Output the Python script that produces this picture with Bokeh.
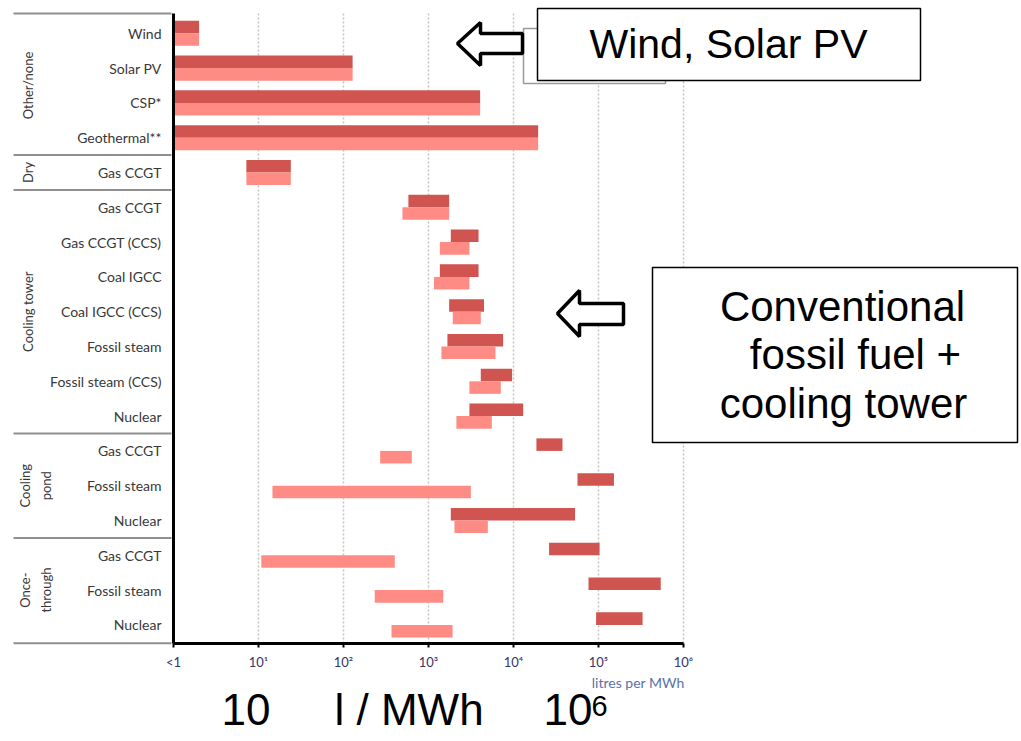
import math
from bokeh.plotting import figure
from bokeh.models import (Range1d, FixedTicker, Label, BoxAnnotation, PolyAnnotation,
                          ColumnDataSource)
from bokeh.embed import file_html
from bokeh.resources import INLINE

# ---------------- data ----------------
technologies = ["Wind", "Solar PV", "CSP*", "Geothermal**",
                "Gas CCGT",
                "Gas CCGT", "Gas CCGT (CCS)", "Coal IGCC", "Coal IGCC (CCS)",
                "Fossil steam", "Fossil steam (CCS)", "Nuclear",
                "Gas CCGT", "Fossil steam", "Nuclear",
                "Gas CCGT", "Fossil steam", "Nuclear"]
groups = ["Other/none"] * 4 + ["Dry"] + ["Cooling tower"] * 7 + ["Cooling pond"] * 3 + ["Once-through"] * 3

# dark bars (upper) : low / high, litres per MWh
dark_low = [1, 1, 1, 1,
            7.2,
            580, 1830, 1360, 1750, 1670, 4120, 3030,
            18600, 56600, 1830,
            26200, 76300, 93700]
dark_high = [2, 128, 4050, 19500,
             24,
             1750, 3880, 3880, 4500, 7550, 9630, 13000,
             37700, 152000, 53000,
             103000, 540000, 330000]
# light bars (lower)
light_low = [1, 1, 1, 1,
             7.2,
             494, 1360, 1160, 1930, 1420, 3030, 2130,
             270, 14.6, 2020,
             10.8, 233, 367]
light_high = [2, 128, 4050, 19500,
              24,
              1750, 3030, 3030, 4120, 6140, 7090, 5560,
              636, 3150, 4990,
              401, 1490, 1920]

x_ticks = [1, 10, 100, 1000, 10000, 100000, 1000000]
x_tick_labels = ["<1", "10\u00b9", "10\u00b2", "10\u00b3", "10\u2074", "10\u2075", "10\u2076"]
x_title = "litres per MWh"
group_label_lines = {"Other/none": ["Other/none"], "Dry": ["Dry"],
                     "Cooling tower": ["Cooling tower"], "Cooling pond": ["Cooling", "pond"],
                     "Once-through": ["Once-", "through"]}
callout_top = "Wind, Solar PV"
callout_mid = ["Conventional", "fossil fuel +", "cooling tower"]
bottom_texts = ["10", "l / MWh", "10", "6"]

DARK = "#d05450"
LIGHT = "#fe8c84"
TXT = "#383838"

# ---------------- layout constants ----------------
W, H = 1019, 738          # canvas = frame
AX_LEFT = 173             # pixel of x = 1
DECADE = 85.0             # pixels per decade
ROW0 = 32.8               # pixel of first row centre
ROW = 34.8                # pixels per row
n = len(technologies)
rows = list(range(n))
h = 0.36
y_top = -0.57             # top of chart area in row units
y_bot = n - 0.47          # bottom of chart area (x axis)


def sy(page_y):
    return H - page_y


def base(page_y, fs):
    # Bokeh places the alphabetic baseline ~0.4em lower than asked
    return sy(page_y - 0.4 * fs)


src = ColumnDataSource(dict(
    y_dark=[r - h / 2 for r in rows], y_light=[r + h / 2 for r in rows],
    dl=dark_low, dh=dark_high, ll=light_low, lh=light_high))

p = figure(x_axis_type="log",
           x_range=Range1d(10 ** (-AX_LEFT / DECADE), 10 ** ((W - AX_LEFT) / DECADE)),
           y_range=Range1d((H - ROW0) / ROW, -ROW0 / ROW),
           width=W, height=H, min_border=0,
           output_backend="svg", toolbar_location=None, background_fill_color="white",
           border_fill_color="white")
p.outline_line_color = None
p.xgrid.visible = False
p.ygrid.visible = False

# dotted vertical grid lines inside the chart area
p.segment(x0=x_ticks[1:], x1=x_ticks[1:], y0=[y_top] * 6, y1=[y_bot] * 6,
          line_color="#c9c4bb", line_dash="2 2", line_width=1.5, level="underlay")

p.hbar(y="y_dark", left="dl", right="dh", height=h, source=src, fill_color=DARK, line_color=None)
p.hbar(y="y_light", left="ll", right="lh", height=h, source=src, fill_color=LIGHT, line_color=None)

# axes
xa = p.xaxis[0]
xa.fixed_location = y_bot
xa.bounds = (x_ticks[0], x_ticks[-1])
xa.ticker = FixedTicker(ticks=x_ticks)
xa.major_label_overrides = {t: l for t, l in zip(x_ticks, x_tick_labels)}
xa.minor_tick_line_color = None
xa.major_tick_in = 0
xa.major_tick_out = 4
xa.major_tick_line_width = 2
xa.axis_line_width = 3
xa.axis_line_color = "black"
xa.major_label_text_font = "Lato"
xa.major_label_text_font_size = "13px"
xa.major_label_text_color = "#3a3367"
xa.major_label_standoff = 7

ya = p.yaxis[0]
ya.fixed_location = x_ticks[0]
ya.bounds = (y_top, y_bot)
ya.ticker = FixedTicker(ticks=rows)
ya.major_label_overrides = {r: t for r, t in zip(rows, technologies)}
ya.major_tick_line_color = None
ya.minor_tick_line_color = None
ya.axis_line_width = 3
ya.axis_line_color = "black"
ya.major_label_text_font = "Lato"
ya.major_label_text_font_size = "14px"
ya.major_label_text_color = TXT
ya.major_label_standoff = 6

# group separators and group labels (left margin)
bounds = [y_top] + [i - 0.5 for i in range(1, n) if groups[i] != groups[i - 1]] + [y_bot]
for b in bounds:
    p.add_layout(BoxAnnotation(left=13, right=AX_LEFT - 2, left_units="screen", right_units="screen",
                               top=b, bottom=b, fill_alpha=0, line_color="#8f8f8f",
                               line_alpha=1, line_width=2, level="overlay"))

order = []
for g in groups:
    if g not in order:
        order.append(g)
for g in order:
    idx = [i for i, gg in enumerate(groups) if gg == g]
    yc = (idx[0] + idx[-1]) / 2
    lines = group_label_lines[g]
    xs = [27] if len(lines) == 1 else [24, 45]
    for line, xx in zip(lines, xs):
        p.add_layout(Label(x=xx, y=yc, x_units="screen", y_units="data", text=line,
                           angle=math.pi / 2, text_align="center", text_baseline="middle",
                           text_font="Lato", text_font_size="13px", text_color=TXT))

# axis title
p.add_layout(Label(x=684, y=base(688, 14), x_units="screen", y_units="screen", text=x_title,
                   text_align="right", text_baseline="alphabetic", text_font="Lato",
                   text_font_size="14px", text_color="#5a73a8"))


# call-out boxes
def box(l, t, r, b, color):
    return BoxAnnotation(left=l, right=r, top=sy(t), bottom=sy(b),
                         left_units="screen", right_units="screen", top_units="screen",
                         bottom_units="screen", fill_color="white", fill_alpha=1,
                         line_color=color, line_alpha=1, line_width=1.5)


p.add_layout(box(523, 28, 665, 83, "#9a9a9a"))
p.add_layout(box(537, 8, 920, 80, "black"))
p.add_layout(Label(x=728, y=base(60, 41), x_units="screen", y_units="screen", text=callout_top,
                   text_align="center", text_baseline="alphabetic",
                   text_font="Liberation Sans", text_font_size="41px", text_color="black"))

p.add_layout(box(652, 267, 1017, 442, "black"))
for line, xx, yy in zip(callout_mid, [842, 855, 843], [323, 371, 420]):
    p.add_layout(Label(x=xx, y=base(yy, 42), x_units="screen", y_units="screen", text=line,
                       text_align="center", text_baseline="alphabetic",
                       text_font="Liberation Sans", text_font_size="42px", text_color="black"))

# hollow arrows (page pixel outlines)
for xs, ys in [([457, 480, 480, 522, 522, 480, 480], [43, 22, 33, 33, 53, 53, 65]),
               ([557, 579, 579, 623, 623, 579, 579], [313, 290, 303, 303, 324, 324, 336])]:
    p.add_layout(PolyAnnotation(xs=xs, ys=[sy(v) for v in ys], xs_units="screen", ys_units="screen",
                                fill_color="white", fill_alpha=1, line_color="black",
                                line_alpha=1, line_width=3.5))

# big bottom text
for txt, xx, yy, fs in zip(bottom_texts, [221, 334, 543, 591], [727, 727, 727, 717],
                           [44, 44, 44, 29]):
    p.add_layout(Label(x=xx, y=base(yy, fs), x_units="screen", y_units="screen", text=txt,
                       text_align="left", text_baseline="alphabetic",
                       text_font="Liberation Sans", text_font_size=f"{fs}px", text_color="black"))

open("out.html", "w").write(file_html(p, INLINE))
